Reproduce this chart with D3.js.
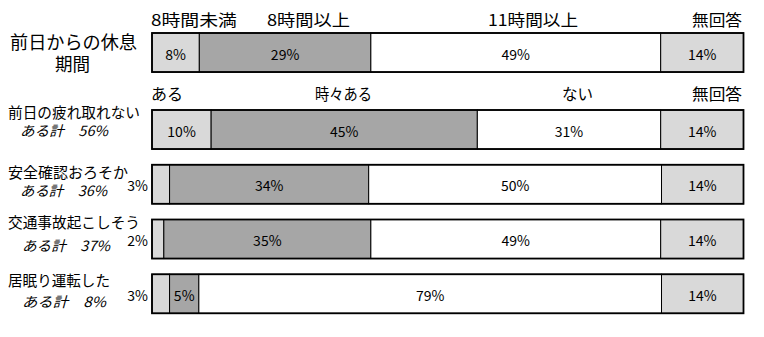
<!DOCTYPE html>
<html>
<head>
<meta charset="utf-8">
<script src="https://cdn.jsdelivr.net/npm/d3@7"></script>
<style>
  html, body { margin: 0; padding: 0; background: #fff; }
  svg { display: block; }
  text { font-family: "Noto Sans CJK JP", "Noto Sans", sans-serif; fill: #000; }
</style>
</head>
<body>
<svg id="chart" width="764" height="337"></svg>
<script>
// Row categories (the first one is the rest-period breakdown)
const categories = ["前日からの休息期間", "前日の疲れ取れない", "安全確認おろそか", "交通事故起こしそう", "居眠り運転した"];

// Column headings
const restHeaders = ["8時間未満", "8時間以上", "11時間以上", "無回答"];
const freqHeaders = ["ある", "時々ある", "ない", "無回答"];

// Share of respondents (%) per row
const restValues     = [8, 29, 49, 14];
const tiredValues    = [10, 45, 31, 14];
const safetyValues   = [3, 34, 50, 14];
const accidentValues = [2, 35, 49, 14];
const dozeValues     = [3, 5, 79, 14];

// "ある計" (ある + 時々ある) totals for the four frequency rows
const aruTotals = [56, 36, 37, 8];

const rows = [restValues, tiredValues, safetyValues, accidentValues, dozeValues];

// ---- layout ----
const svg = d3.select("#chart");
const barLeft = 152, barRight = 743.5;
const fills = ["#d9d9d9", "#a6a6a6", "#ffffff", "#d9d9d9"];

const yFreq = d3.scaleBand()
  .domain(categories.slice(1))
  .range([110, 313.3])
  .paddingInner(0.287)
  .paddingOuter(0);
const barH = yFreq.bandwidth();
const rowTop = (i) => i === 0 ? 33 : yFreq(categories[i]);

// Place text so its ink spans a given width
function fitText(g, str, x, y, w, size, opts = {}) {
  const t = g.append("text")
    .attr("x", x).attr("y", y)
    .style("font-size", size + "px")
    .text(str);
  if (w) t.attr("textLength", w).attr("lengthAdjust", "spacingAndGlyphs");
  if (opts.italic) t.style("font-style", "italic");
  if (opts.anchor) t.attr("text-anchor", opts.anchor);
  return t;
}

// ---- bars ----
rows.forEach((vals, i) => {
  const top = rowTop(i);
  const x = d3.scaleLinear().domain([0, d3.sum(vals)]).range([barLeft, barRight]);
  const cum = d3.cumsum(vals);
  const segs = vals.map((v, j) => ({ v, x0: cum[j] - v, x1: cum[j], j }));

  const g = svg.append("g").attr("class", "row");
  g.selectAll("rect.seg")
    .data(segs)
    .join("rect")
    .attr("class", "seg")
    .attr("x", d => x(d.x0))
    .attr("y", top)
    .attr("width", d => x(d.x1) - x(d.x0))
    .attr("height", barH)
    .attr("fill", d => fills[d.j])
    .attr("stroke", "#000")
    .attr("stroke-width", 1);

  g.append("rect")
    .attr("x", barLeft).attr("y", top)
    .attr("width", barRight - barLeft).attr("height", barH)
    .attr("fill", "none").attr("stroke", "#000").attr("stroke-width", 1.8);

  // value labels: inside when the segment is wide enough, otherwise left of the bar
  g.selectAll("text.val")
    .data(segs)
    .join("text")
    .attr("class", "val")
    .attr("x", d => d.v < 5 ? barLeft - 4 : (x(d.x0) + x(d.x1)) / 2)
    .attr("y", top + 26.5)
    .attr("text-anchor", d => d.v < 5 ? "end" : "middle")
    .style("font-size", "14px")
    .text(d => d.v + "%");
});

// ---- column headings ----
const hg = svg.append("g");
const restHeadPos = [[151, 86], [267, 83], [488, 90], [692, 50]];
restHeaders.forEach((h, k) => fitText(hg, h, restHeadPos[k][0], 26, restHeadPos[k][1], 16));
const freqHeadPos = [[151, 32], [315, 57], [562, 31], [692, 50]];
freqHeaders.forEach((h, k) => fitText(hg, h, freqHeadPos[k][0], 99.5, freqHeadPos[k][1], 16));

// ---- row labels ----
const lg = svg.append("g");
fitText(lg, categories[0].slice(0, 7), 10, 48.5, 127, 18);
fitText(lg, categories[0].slice(7), 55, 70.5, 35, 18);

const labelPos = [
  { x: 8, y: 118, w: 132 },
  { x: 8, y: 178, w: 120 },
  { x: 8, y: 228, w: 132 },
  { x: 8, y: 286, w: 102 }
];
const totalPos = [
  { x: 20, y: 136, w: 88 },
  { x: 20, y: 196, w: 87 },
  { x: 22, y: 251, w: 88 },
  { x: 22, y: 307, w: 84 }
];
aruTotals.forEach((t, k) => {
  const p = labelPos[k];
  fitText(lg, categories[k + 1], p.x, p.y, p.w, 15);
  const q = totalPos[k];
  fitText(lg, "ある計　" + t + "%", q.x, q.y, q.w, 14, { italic: true });
});
</script>
</body>
</html>
